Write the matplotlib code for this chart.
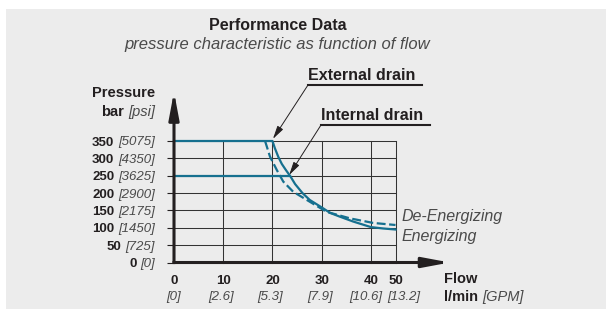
import numpy as np
import matplotlib
matplotlib.use("Agg")
import matplotlib.pyplot as plt
from matplotlib.patches import Rectangle
from matplotlib.lines import Line2D

plt.rcParams["font.family"] = ["Liberation Sans", "DejaVu Sans"]

# data (flow l/min, pressure bar)
flow_energ = [0, 20, 20.5, 21.2, 21.9, 22.7, 23.7, 24.6, 26.1, 27.6, 30.2, 31.7, 33.7, 36.4, 40, 45, 50]
p_energ = [350, 350, 329, 304, 284, 267, 247, 226, 200, 180, 157, 143, 132, 118, 102, 98, 95]
flow_deener = [18.5, 19.5, 20.9, 22.2, 24.2, 27.0, 31.0, 35.8, 40.9, 50]
p_deener = [350, 305, 266, 233, 204, 180, 146, 127, 114, 108]
flow_internal = [0, 23.5]
p_internal = [250, 250]

bar_ticks = [0, 50, 100, 150, 200, 250, 300, 350]
psi_labels = ["[0]", "[725]", "[1450]", "[2175]", "[2900]", "[3625]", "[4350]", "[5075]"]
flow_ticks = [0, 10, 20, 30, 40, 50]
gpm_labels = ["[0]", "[2.6]", "[5.3]", "[7.9]", "[10.6]", "[13.2]"]
gpm_shift = [0, -2, -2, -2, -5, 8]  # label nudges in px, as in the original

W, H = 606, 309
blue = "#16708f"
dark = "#231f20"
grey = "#4a4a4a"

fig = plt.figure(figsize=(W / 100, H / 100), dpi=100)
fig.patch.set_facecolor("white")
fig.add_artist(Rectangle((6 / W, 0), 1, 1 - 9 / H, transform=fig.transFigure,
                         facecolor="#ececec", edgecolor="none", zorder=-10))


def px(x, y):
    return x / W, 1 - y / H


def fwd(x):
    x = np.asarray(x, dtype=float)
    return np.where(x <= 40, x, 40 + (x - 40) * 0.5)


def inv(t):
    t = np.asarray(t, dtype=float)
    return np.where(t <= 40, t, 40 + (t - 40) * 2)


ax = fig.add_axes([174 / W, (H - 262.5) / H, (395.5 - 174) / W, (262.5 - 141) / H])
ax.set_facecolor("none")
ax.set_xscale("function", functions=(fwd, inv))
ax.set_xlim(0, 50)
ax.set_ylim(0, 350)

ax.set_yticks(bar_ticks)
ax.set_yticklabels(psi_labels, fontstyle="italic", fontsize=9.5, color=grey)
ax.set_xticks(flow_ticks)
ax.set_xticklabels([str(f) for f in flow_ticks], fontsize=9.5, fontweight="bold", color=dark)
ax.tick_params(axis="y", length=5, width=0.8, color=dark, pad=9)
ax.tick_params(axis="x", length=0, pad=9)
ax.grid(True, color="#333333", lw=0.75)
for gl in ax.get_xgridlines() + ax.get_ygridlines():
    gl.set_clip_on(False)
for s in ax.spines.values():
    s.set_visible(False)

fig.canvas.draw()
# bold bar values left of the italic psi values
for b, tl in zip(bar_ticks, ax.get_yticklabels()):
    ax.annotate(str(b), xy=(0, 0), xycoords=tl, xytext=(-2.5, 0), textcoords="offset points",
                ha="right", va="bottom", fontsize=9.5, fontweight="bold", color=dark,
                annotation_clip=False)

for f, g, dx in zip(flow_ticks, gpm_labels, gpm_shift):
    ax.annotate(g, xy=(f, -0.285), xycoords=ax.get_xaxis_transform(), xytext=(dx * 0.72, 0),
                textcoords="offset points", ha="center", va="center",
                fontsize=9.5, fontstyle="italic", color=grey, annotation_clip=False)

# axes with arrow heads
for tip in [(0, 1.405), (1.245, 0)]:
    ax.annotate("", xy=tip, xytext=(0, 0), xycoords="axes fraction",
                arrowprops=dict(arrowstyle="-|>,head_length=1.6,head_width=0.3", lw=2.2,
                                color=dark, shrinkA=0, shrinkB=0, mutation_scale=10,
                                capstyle="projecting"),
                zorder=5, annotation_clip=False)

# curves
ax.plot(flow_energ, p_energ, color=blue, lw=1.6, solid_joinstyle="round", zorder=4, clip_on=False)
ax.plot(flow_internal, p_internal, color=blue, lw=1.6, zorder=4, clip_on=False)
ax.plot(flow_deener, p_deener, color=blue, lw=1.6, ls=(0, (4, 1.6)), zorder=4, clip_on=False)

# titles
fig.text(*px(278, 25), "Performance Data", ha="center", va="center",
         fontsize=11.5, fontweight="bold", color=dark)
fig.text(*px(277, 45), "pressure characteristic as function of flow", ha="center", va="center",
         fontsize=12, fontstyle="italic", color=grey)

# axis labels
fig.text(*px(155, 93), "Pressure", ha="right", va="center", fontsize=10.5, fontweight="bold", color=dark)
psi = fig.text(*px(155, 112), "[psi]", ha="right", va="center", fontsize=10.5,
               fontstyle="italic", color=grey)
fig.text(*px(444, 279), "Flow", ha="left", va="center", fontsize=10.5, fontweight="bold", color=dark)
lmin = fig.text(*px(444, 297), "l/min", ha="left", va="center", fontsize=10.5,
                fontweight="bold", color=dark)
fig.canvas.draw()
ax.annotate("bar", xy=(0, 0), xycoords=psi, xytext=(-3, 0), textcoords="offset points",
            ha="right", va="bottom", fontsize=10.5, fontweight="bold", color=dark, annotation_clip=False)
ax.annotate("[GPM]", xy=(1, 0), xycoords=lmin, xytext=(3, 0), textcoords="offset points",
            ha="left", va="bottom", fontsize=10.5, fontstyle="italic", color=grey, annotation_clip=False)

# drain annotations
for label, x0, x1, ty, uy, tip in [("External drain", 308, 422, 76, 85, (20.1, 356)),
                                   ("Internal drain", 321, 430, 116, 125, (23.4, 252))]:
    fig.text(*px(x0, ty), label, ha="left", va="center", fontsize=11.5, fontweight="bold", color=dark)
    fig.add_artist(Line2D([x0 / W, x1 / W], [1 - uy / H, 1 - uy / H], transform=fig.transFigure,
                          color=dark, lw=1.5))
    ax.annotate("", xy=tip, xytext=(x0, H - uy), textcoords="figure pixels",
                arrowprops=dict(arrowstyle="-|>,head_length=0.8,head_width=0.2", lw=0.7,
                                color=dark, shrinkA=0, shrinkB=0, mutation_scale=10),
                annotation_clip=False)

fig.text(*px(402, 216), "De-Energizing", ha="left", va="center", fontsize=11.5,
         fontstyle="italic", color=grey)
fig.text(*px(402, 237), "Energizing", ha="left", va="center", fontsize=11.5,
         fontstyle="italic", color=grey)

fig.savefig("out.png", dpi=100, facecolor=fig.get_facecolor())
